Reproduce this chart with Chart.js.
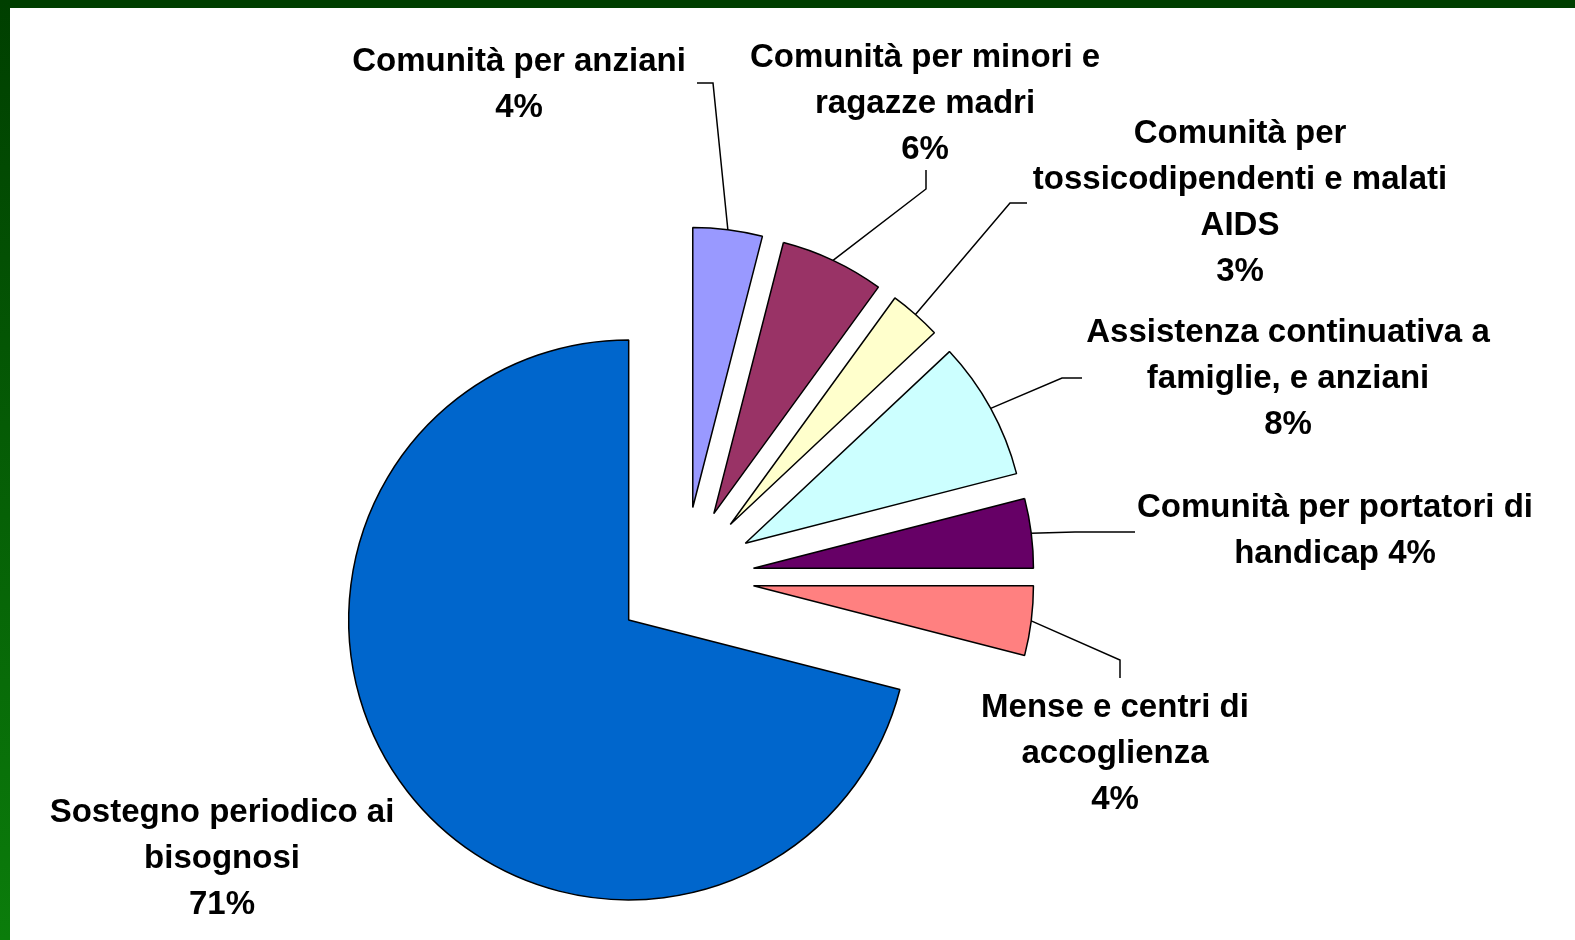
<!DOCTYPE html>
<html>
<head>
<meta charset="utf-8">
<script src="https://cdn.jsdelivr.net/npm/chart.js@4"></script>
<style>
  html, body { margin: 0; padding: 0; background: #fff; }
  body { width: 1575px; height: 940px; position: relative; overflow: hidden; }
  #wrap { position: absolute; left: 0; top: 0; width: 1575px; height: 940px; }
  #topBar { position: absolute; left: 0; top: 0; width: 1575px; height: 8px; background: #003f00; }
  #leftBar { position: absolute; left: 0; top: 0; width: 10px; height: 940px; background: linear-gradient(#003f00, #0b7d0b); }
</style>
</head>
<body>
<div id="wrap"><canvas id="pieChart" width="1575" height="940"></canvas></div>
<div id="topBar"></div>
<div id="leftBar"></div>
<script>
// label text, split the way it wraps on the slide
const labelLines = [
    ['Comunità per anziani'],
    ['Comunità per minori e', 'ragazze madri'],
    ['Comunità per', 'tossicodipendenti e malati', 'AIDS'],
    ['Assistenza continuativa a', 'famiglie, e anziani'],
    ['Comunità per portatori di', 'handicap'],
    ['Mense e centri di', 'accoglienza'],
    ['Sostegno periodico ai', 'bisognosi']
];
const categories = labelLines.map(l => l.join(' '));
// share of each category (%)
const values = [4, 6, 3, 8, 4, 4, 71];
const sliceColors = ['#9999ff', '#993366', '#ffffcc', '#ccffff', '#660066', '#ff8080', '#0066cc'];
// portatori di handicap has its percentage on the last text line
const pctSameLine = [false, false, false, false, true, false, false];

// where each label sits and the bends of its leader line
const labelPos = [
    { x: 519, y: 71, path: [[713, 83], [697, 83]] },
    { x: 925, y: 67, path: [[926, 189], [926, 170]] },
    { x: 1240, y: 143, path: [[1010, 203], [1027, 203]] },
    { x: 1288, y: 342, path: [[1062, 378], [1082, 378]] },
    { x: 1335, y: 517, path: [[1075, 532], [1135, 532]] },
    { x: 1115, y: 717, path: [[1120, 660], [1120, 678]] },
    { x: 222, y: 822, path: [] }
];

const RADIUS = 280;
const EXPLODE = 280;   // chart.js moves a slice by offset / 4
const LINE_H = 46;

// chart.js grows exploded slices and trims their angle a bit;
// undo that so every slice keeps the same radius and its full angle
const evenSlices = {
    id: 'evenSlices',
    afterDatasetUpdate(chart, args) {
        args.meta.data.forEach(arc => {
            const shift = (arc.options.offset || 0) / 4;
            const fix = 1 - Math.sin(Math.min(Math.PI, arc.circumference));
            const grow = shift * fix;
            arc.outerRadius = RADIUS - grow;
            const trim = grow / (2 * Math.PI * RADIUS);
            arc.startAngle -= trim;
            arc.endAngle += trim;
        });
    }
};

// labels with leader lines
const sliceLabels = {
    id: 'sliceLabels',
    afterDatasetsDraw(chart) {
        const ctx = chart.ctx;
        const meta = chart.getDatasetMeta(0);
        ctx.save();
        ctx.strokeStyle = '#000';
        ctx.lineWidth = 1.5;
        ctx.fillStyle = '#000';
        ctx.font = 'bold 33px "Liberation Sans", Arial, sans-serif';
        ctx.textAlign = 'center';
        ctx.textBaseline = 'alphabetic';
        meta.data.forEach((arc, i) => {
            const mid = (arc.startAngle + arc.endAngle) / 2;
            const reach = (arc.options.offset || 0) / 4 + RADIUS;
            const ax = arc.x + Math.cos(mid) * reach;
            const ay = arc.y + Math.sin(mid) * reach;
            const p = labelPos[i];
            if (p.path.length) {
                ctx.beginPath();
                ctx.moveTo(ax, ay);
                p.path.forEach(([x, y]) => ctx.lineTo(x, y));
                ctx.stroke();
            }
            const lines = labelLines[i].slice();
            const pct = values[i] + '%';
            if (pctSameLine[i]) lines[lines.length - 1] += ' ' + pct;
            else lines.push(pct);
            lines.forEach((t, k) => ctx.fillText(t, p.x, p.y + k * LINE_H));
        });
        ctx.restore();
    }
};

const ctx = document.getElementById('pieChart').getContext('2d');
const pieChart = new Chart(ctx, {
    type: 'pie',
    data: {
        labels: categories,
        datasets: [{
            data: values,
            backgroundColor: sliceColors,
            borderColor: '#000',
            borderWidth: 1.5,
            offset: EXPLODE,
            hoverOffset: EXPLODE,
            radius: RADIUS
        }]
    },
    options: {
        responsive: false,
        animation: false,
        events: [],
        layout: { padding: { top: 214, right: 207, left: 0, bottom: 0 } },
        plugins: {
            legend: { display: false },
            tooltip: { enabled: false }
        }
    },
    plugins: [evenSlices, sliceLabels]
});
</script>
</body>
</html>
